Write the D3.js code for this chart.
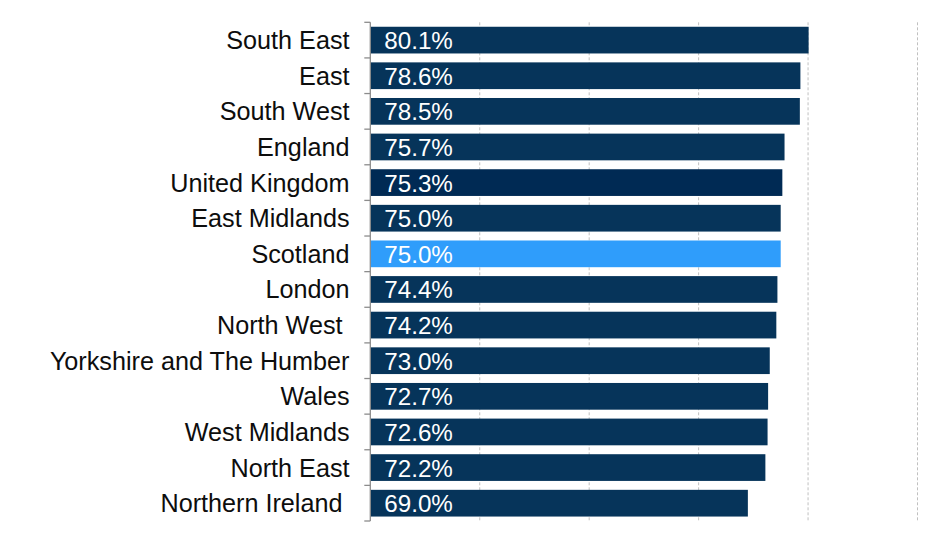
<!DOCTYPE html>
<html><head><meta charset="utf-8">
<script src="https://cdn.jsdelivr.net/npm/d3@7"></script>
<style>body{margin:0;background:#fff;}svg{display:block;}text{font-family:"Liberation Sans",Arial,sans-serif;}</style>
</head><body>
<svg id="c" width="940" height="546"></svg>
<script>
const categories = ["South East","East","South West","England","United Kingdom","East Midlands","Scotland","London","North West ","Yorkshire and The Humber","Wales","West Midlands","North East","Northern Ireland "];
const values = [80.1,78.6,78.5,75.7,75.3,75.0,75.0,74.4,74.2,73.0,72.7,72.6,72.2,69.0];
const xTicks = [0,20,40,60,80,100];

const colorFor = c => c === "Scotland" ? "#2f9dfb" : (c === "United Kingdom" ? "#002a54" : "#06345a");

const svg = d3.select("#c");
const x = d3.scaleLinear().domain([0,100]).range([370.3,917.5]);
const y = d3.scaleBand().domain(categories).range([22.3,521]).paddingInner(0.25).paddingOuter(0.125);

// gridlines
svg.append("g").selectAll("line").data(xTicks.slice(1)).join("line")
  .attr("x1",d=>x(d)).attr("x2",d=>x(d)).attr("y1",22.3).attr("y2",521)
  .attr("stroke","#c0c0c0").attr("stroke-width",1).attr("stroke-dasharray","3,2");

// bars
svg.append("g").selectAll("rect").data(categories).join("rect")
  .attr("x",x(0)).attr("y",c=>y(c)).attr("height",y.bandwidth())
  .attr("width",(c,i)=>x(values[i])-x(0)).attr("fill",colorFor);

// value labels
svg.append("g").selectAll("text").data(categories).join("text")
  .attr("x",x(0)+14).attr("y",c=>y(c)+y.bandwidth()/2+9)
  .attr("fill","#fff").attr("font-size","24.2px")
  .text((c,i)=>values[i].toFixed(1)+"%");

// axis
const band = (y.range()[1]-y.range()[0])/categories.length;
const bounds = d3.range(categories.length+1).map(i=>y.range()[0]+i*band);
const ax = svg.append("g").attr("stroke","#8c8c8c").attr("stroke-width",1.3);
ax.append("line").attr("x1",x(0)).attr("x2",x(0)).attr("y1",22.3).attr("y2",521);
ax.selectAll("line.t").data(bounds).join("line").attr("class","t")
  .attr("x1",x(0)-6).attr("x2",x(0)).attr("y1",d=>d).attr("y2",d=>d);

// category labels
svg.append("g").selectAll("text").data(categories).join("text")
  .attr("x",349.5).attr("y",c=>y(c)+y.bandwidth()/2+9)
  .attr("text-anchor","end").attr("fill","#0d0d0d").attr("font-size","25.2px")
  .style("white-space","pre").text(c=>c);
</script>
</body></html>
